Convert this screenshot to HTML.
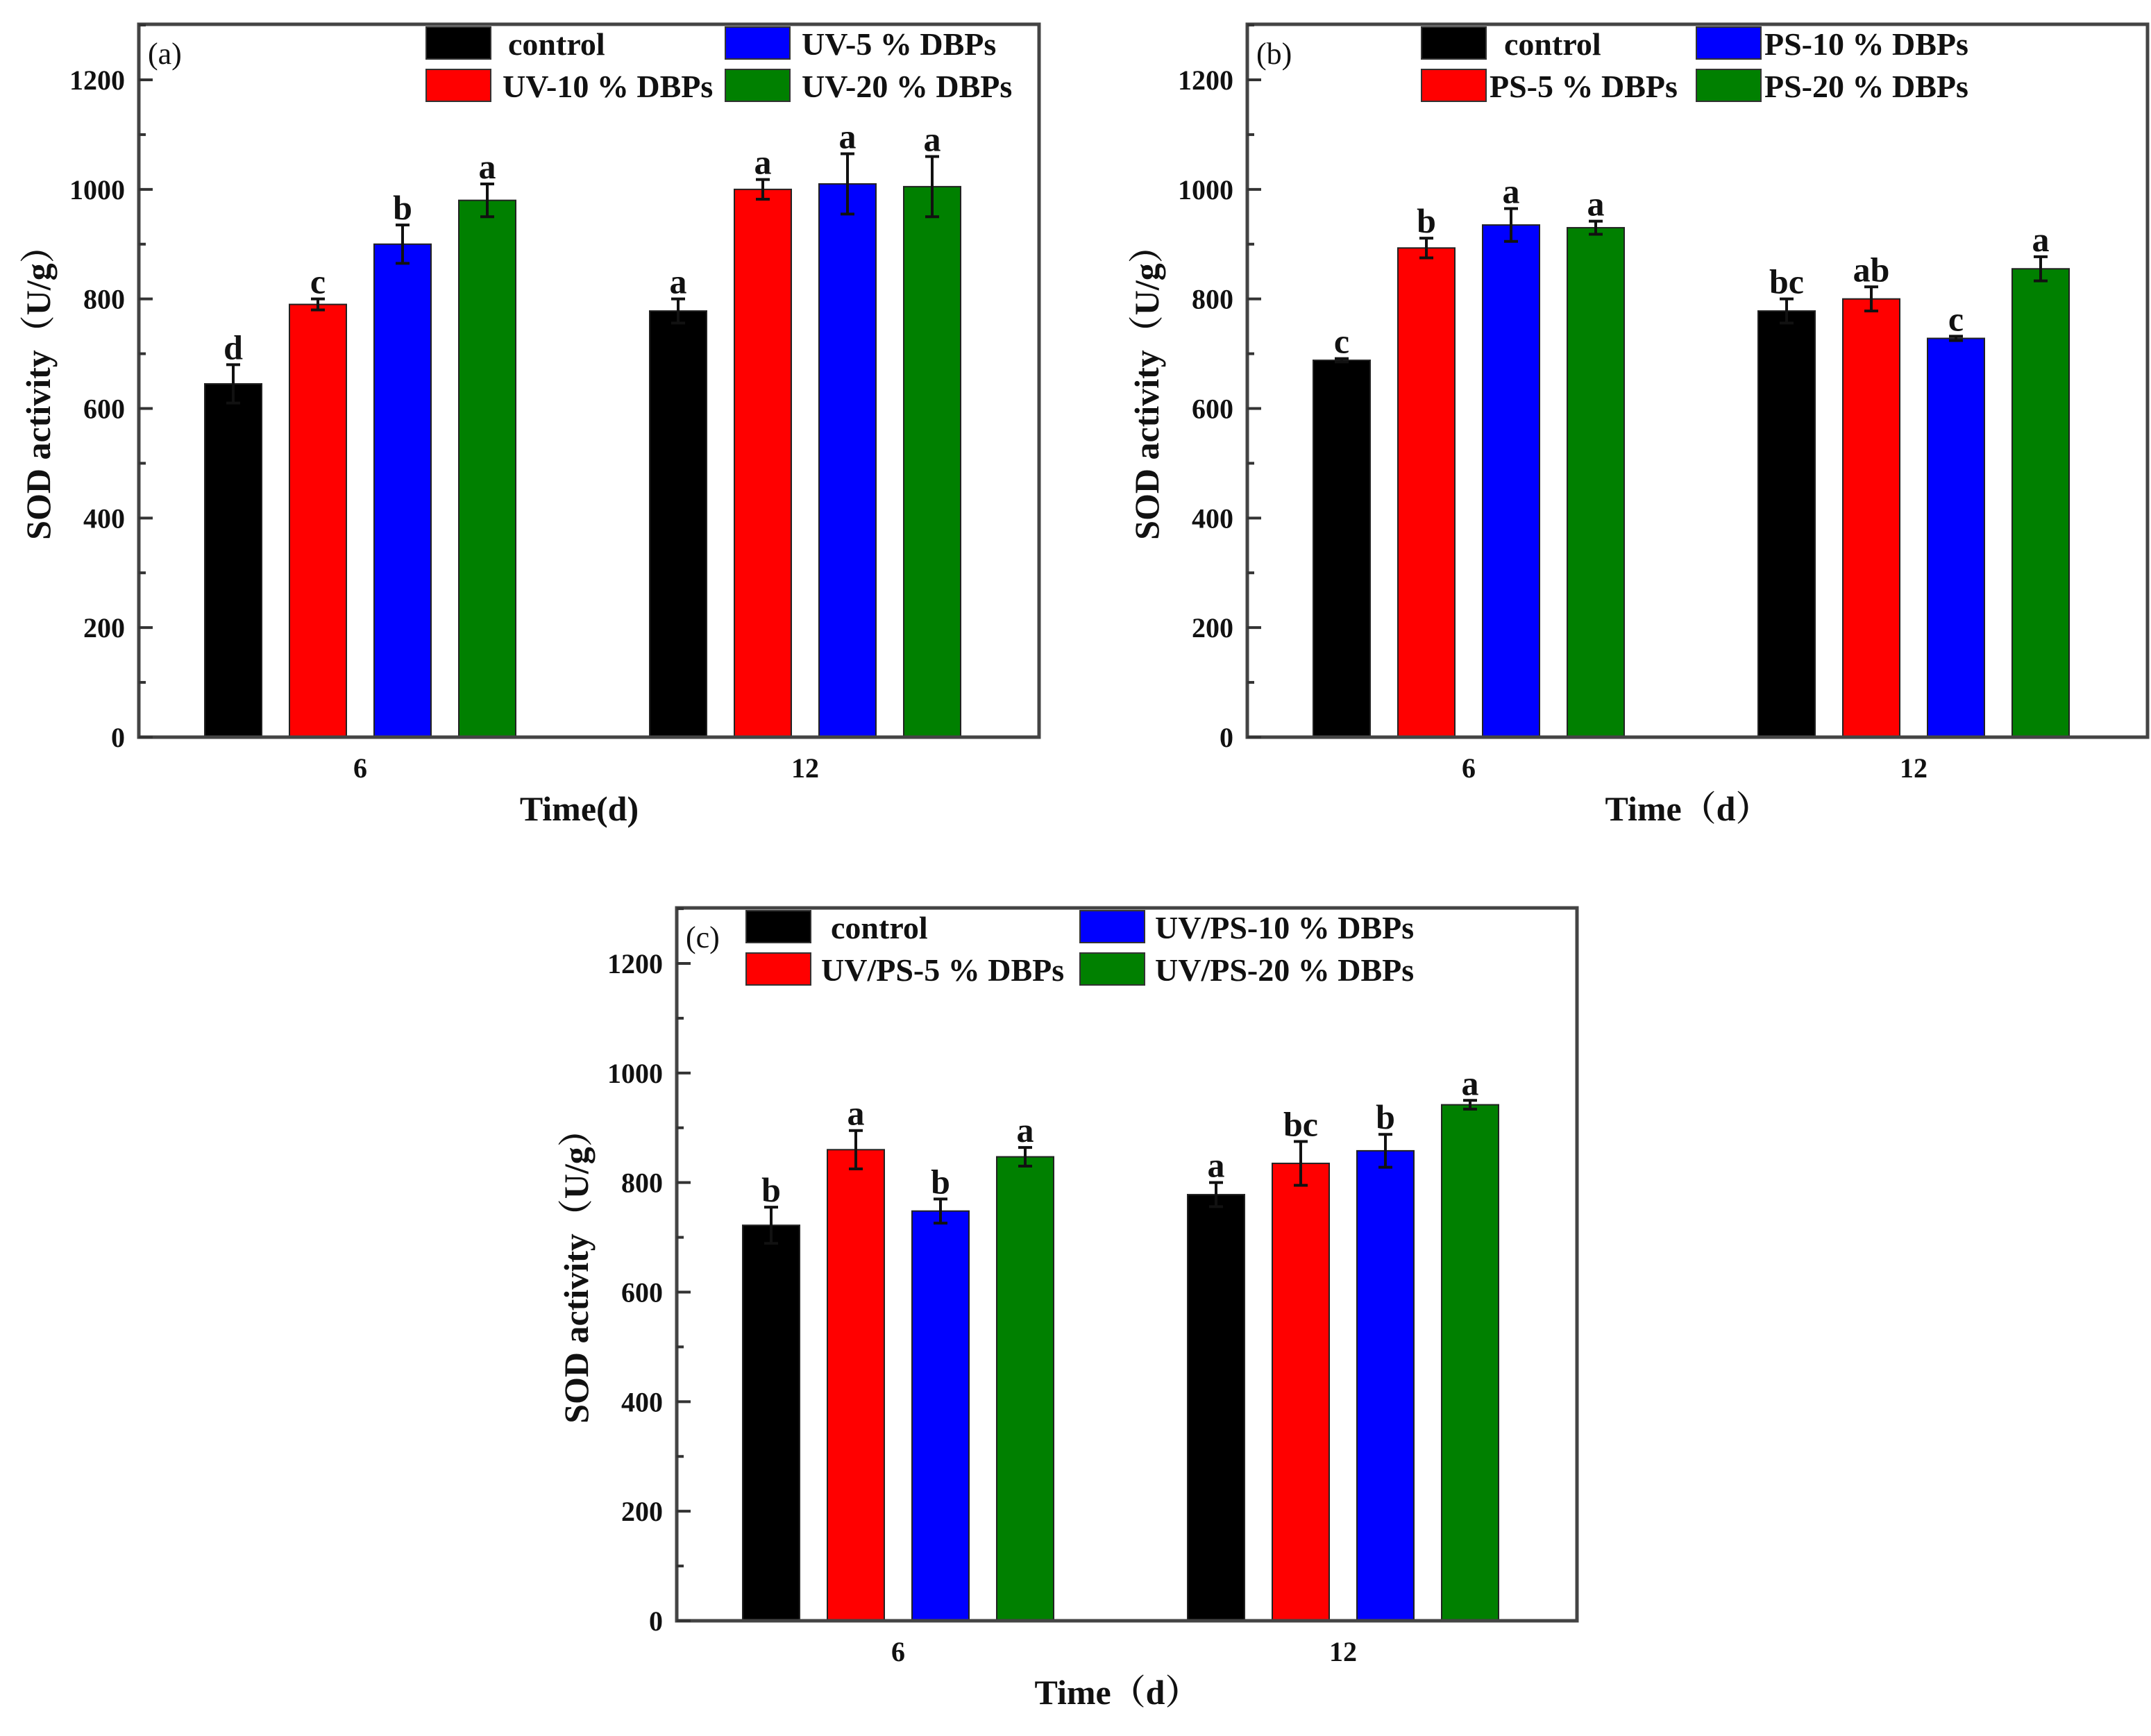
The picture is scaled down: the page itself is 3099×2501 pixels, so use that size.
<!DOCTYPE html>
<html><head><meta charset="utf-8">
<style>
html,body{margin:0;padding:0;background:#fff;}
svg{display:block;}
text{font-family:"Liberation Serif","Noto Serif CJK SC",serif;font-weight:bold;fill:#111;}
</style></head>
<body>
<svg id="fig" width="3099" height="2501" viewBox="0 0 3099 2501" xmlns="http://www.w3.org/2000/svg"></svg>
<script>
const categories = ["6", "12"];
const yTicks = [0, 200, 400, 600, 800, 1000, 1200];
const colors = ["#000000", "#ff0000", "#0000ff", "#008000"];

const aNames = ["control", "UV-10 % DBPs", "UV-5 % DBPs", "UV-20 % DBPs"];
const aDay6 = [645, 790, 900, 980];
const aDay12 = [778, 1000, 1010, 1005];
const aErr6 = [35, 10, 35, 30];
const aErr12 = [22, 18, 55, 55];
const aLet6 = ["d", "c", "b", "a"];
const aLet12 = ["a", "a", "a", "a"];

const bNames = ["control", "PS-5 % DBPs", "PS-10 % DBPs", "PS-20 % DBPs"];
const bDay6 = [688, 893, 935, 930];
const bDay12 = [778, 800, 728, 855];
const bErr6 = [3, 18, 30, 12];
const bErr12 = [22, 22, 4, 22];
const bLet6 = ["c", "b", "a", "a"];
const bLet12 = ["bc", "ab", "c", "a"];

const cNames = ["control", "UV/PS-5 % DBPs", "UV/PS-10 % DBPs", "UV/PS-20 % DBPs"];
const cDay6 = [722, 860, 748, 847];
const cDay12 = [778, 835, 858, 942];
const cErr6 = [33, 35, 22, 17];
const cErr12 = [22, 40, 30, 8];
const cLet6 = ["b", "a", "b", "a"];
const cLet12 = ["a", "bc", "b", "a"];

const NS = "http://www.w3.org/2000/svg";
const svg = document.getElementById("fig");
function mk(tag, attrs, parent, txt){
  const e = document.createElementNS(NS, tag);
  for (const k in attrs) e.setAttribute(k, attrs[k]);
  if (txt !== undefined) e.textContent = txt;
  (parent || svg).appendChild(e);
  return e;
}

function panel(id, ox, oy, label, names, vals, errs, lets, xTitle, legPos){
  const L = 200 + ox, R = 1497 + ox, T = 35 + oy, B = 1062 + oy;
  const y = v => B - v * (B - (115 + oy)) / 1200;
  const x = i => (519 + ox) + i * 641;
  const offs = [-183, -61, 61, 183];
  const bw = 82;
  const g = mk("g", {});
  
  

  for (let ci = 0; ci < categories.length; ci++) {
    for (let s = 0; s < 4; s++) {
      const v = vals[ci][s], e = errs[ci][s];
      const cx = x(ci) + offs[s];
      const r = mk("rect", {x: cx - bw/2, y: y(v), width: bw, height: B - y(v), fill: colors[s], stroke: "#222", "stroke-width": 2}, g);
      
      
      const eg = mk("path", {d: `M${cx},${y(v+e)}V${y(v-e)}M${cx-10},${y(v+e)}H${cx+10}M${cx-10},${y(v-e)}H${cx+10}`, stroke: "#111", "stroke-width": 4, fill: "none"}, g);
      
      
      const lt = mk("text", {x: cx, y: y(v+e) - 8, "text-anchor": "middle", "font-size": 50}, g, lets[ci][s]);
      
      
    }
  }
  const fr = mk("rect", {x: L, y: T, width: R - L, height: B - T, fill: "none", stroke: "#444", "stroke-width": 5}, g);
  
  
  for (let v = 0; v <= 1300; v += 100) {
    const major = v % 200 === 0;
    mk("line", {x1: L, x2: L + (major ? 20 : 10), y1: y(v), y2: y(v), stroke: "#333", "stroke-width": 4}, g);
  }
  yTicks.forEach(t => {
    const tl = mk("text", {x: L - 20, y: y(t) + 14, "text-anchor": "end", "font-size": 40}, g, String(t));
    
    
  });
  categories.forEach((c, i) => {
    const xl = mk("text", {x: x(i), y: B + 58, "text-anchor": "middle", "font-size": 40}, g, c);
    
    
  });
  const xt = mk("text", {x: (L + R) / 2 - 14, y: B + 120, "text-anchor": "middle", "font-size": 50}, g, xTitle);
  
  
  const yt = mk("text", {x: 0, y: 0, "text-anchor": "middle", "font-size": 50, transform: `translate(${L - 128},${(T + B) / 2 + 5}) rotate(-90)`}, g, "SOD activity（U/g）");
  
  
  const pl = mk("text", {x: L + 13, y: T + 57, "font-size": 44, style: "font-weight:normal"}, g, label);
  
  

  const slots = [[0,0],[0,1],[1,0],[1,1]];
  for (let s = 0; s < 4; s++) {
    const [col, row] = slots[s];
    const sx = legPos.sx[col], sy = T + 4 + row * 61;
    const sw = mk("rect", {x: sx, y: sy, width: 93, height: 46, fill: colors[s], stroke: "#333", "stroke-width": 2}, g);
    
    
    const tx = (s === 0) ? legPos.ctrlX : sx + legPos.tdx;
    const lt = mk("text", {x: tx, y: sy + 40, "font-size": 46}, g, names[s]);
    
    
  }
}

function pick(a6, a12){ return [a6, a12]; }

panel("a", 0, 0, "(a)", aNames, pick(aDay6, aDay12), pick(aErr6, aErr12), pick(aLet6, aLet12), "Time(d)",
  {sx: [614, 1045], ctrlX: 732, tdx: 110});
panel("b", 1597, 0, "(b)", bNames, pick(bDay6, bDay12), pick(bErr6, bErr12), pick(bLet6, bLet12), "Time（d）",
  {sx: [2048, 2444], ctrlX: 2167, tdx: 98});
panel("c", 775, 1273, "(c)", cNames, pick(cDay6, cDay12), pick(cErr6, cErr12), pick(cLet6, cLet12), "Time（d）",
  {sx: [1075, 1556], ctrlX: 1197, tdx: 108});
</script>
</body></html>
